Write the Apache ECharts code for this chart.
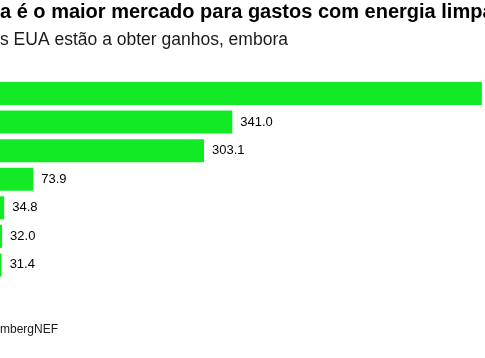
<!DOCTYPE html>
<html>
<head>
<meta charset="utf-8">
<script src="https://cdn.jsdelivr.net/npm/echarts@6/dist/echarts.min.js"></script>
<style>
html,body{margin:0;padding:0;background:#fff;}
#chart{width:485px;height:358px;}
</style>
</head>
<body>
<div id="chart"></div>
<script>
const titleText = 'a é o maior mercado para gastos com energia limpa';
const subtitleText = 's EUA estão a obter ganhos, embora';
const sourceText = 'mbergNEF';
const categories = ['China', 'UE', 'EUA', 'Reino Unido', 'França', 'Índia', 'Japão'];
const values = [676.0, 341.0, 303.1, 73.9, 34.8, 32.0, 31.4];

const chart = echarts.init(document.getElementById('chart'), null, {renderer: 'canvas'});
chart.setOption({
  animation: false,
  backgroundColor: '#ffffff',
  title: [
    {text: titleText, left: 0, top: 2, padding: 0,
     textStyle: {fontFamily: 'Liberation Sans', fontSize: 20, fontWeight: 'bold', color: '#000'}},
    {text: subtitleText, left: 0, top: 31.5, padding: 0,
     textStyle: {fontFamily: 'Liberation Sans', fontSize: 17.5, fontWeight: 'normal', color: '#1a1a1a'}},
    {text: sourceText, left: 0, top: 323.5, padding: 0,
     textStyle: {fontFamily: 'Liberation Sans', fontSize: 12, fontWeight: 'normal', color: '#1a1a1a'}}
  ],
  grid: {left: 0, top: 79.2, right: 0, height: 200, containLabel: false},
  xAxis: {
    type: 'value', min: 29.2, max: 680.2,
    show: false
  },
  yAxis: {
    type: 'category', data: categories, inverse: true,
    axisLine: {show: false}, axisTick: {show: false}, axisLabel: {show: false}
  },
  series: [{
    type: 'bar',
    data: values,
    barWidth: 23,
    clip: true,
    itemStyle: {color: '#12ea26'},
    label: {
      show: true, position: 'right', distance: 8,
      formatter: p => p.value.toFixed(1),
      fontFamily: 'Liberation Sans', fontSize: 13, color: '#000'
    }
  }]
});
</script>
</body>
</html>
